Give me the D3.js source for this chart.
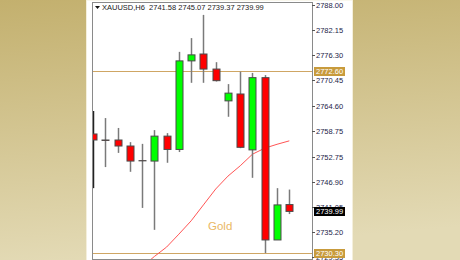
<!DOCTYPE html>
<html>
<head>
<meta charset="utf-8">
<script src="https://cdnjs.cloudflare.com/ajax/libs/d3/7.8.5/d3.min.js"></script>
<style>
html, body { margin: 0; padding: 0; background: #fff; }
svg { display: block; }
</style>
</head>
<body>
<svg id="mySVG" width="460" height="260"></svg>
<script>
//---candle data (H6 bars, oldest first)---
var bars = [1, 2, 3, 4, 5, 6, 7, 8, 9, 10, 11, 12, 13, 14, 15, 16, 17]
var opens  = [2758.00, 2756.60, 2756.60, 2755.20, 2751.80, 2751.70, 2757.50, 2754.40, 2775.00, 2776.60, 2773.10, 2765.70, 2767.30, 2754.30, 2771.10, 2733.35, 2741.58]
var highs  = [2763.35, 2761.70, 2759.40, 2756.10, 2755.70, 2758.90, 2758.20, 2777.10, 2780.30, 2785.70, 2774.70, 2769.60, 2772.50, 2772.20, 2771.70, 2745.40, 2745.07]
var lows   = [2745.40, 2750.30, 2753.60, 2749.20, 2740.80, 2735.70, 2751.30, 2753.80, 2769.90, 2769.90, 2770.20, 2762.00, 2754.70, 2747.80, 2730.30, 2733.60, 2739.37]
var closes = [2756.60, 2756.50, 2755.20, 2751.70, 2751.75, 2757.50, 2754.40, 2775.00, 2776.40, 2773.10, 2770.40, 2767.50, 2754.90, 2771.10, 2733.35, 2741.50, 2739.99]
//---moving average (null = not drawn)---
var maValues = [null, null, null, null, 2727.10, 2729.50, 2731.70, 2734.70, 2737.80, 2741.50, 2745.20, 2748.20, 2750.60, 2753.30, 2754.70, 2755.60, 2756.40]

//---price axis---
var tickValues = [2788.00, 2782.15, 2776.30, 2770.45, 2764.60, 2758.75, 2752.75, 2746.90, 2741.05, 2735.20, 2729.35]
var tickLabels = ["2788.00", "2782.15", "2776.30", "2770.45", "2764.60", "2758.75", "2752.75", "2746.90", "2741.05", "2735.20", "2729.35"]
var levelValues = [2772.60, 2730.30]
var levelLabels = ["2772.60", "2730.30"]
var lastPrice = 2739.99
var headerText = "XAUUSD,H6  2741.58 2745.07 2739.37 2739.99"
var watermark = "Gold"

var MySVG = d3.select("#mySVG")

var plotL = 92, plotR = 312, plotT = 2, plotB = 259

var x = d3.scalePoint()
    .domain(bars)
    .range([93, 289.3])
var y = d3.scaleLinear()
    .domain([2735.20, 2788.00])
    .range([232, 5])

//---background---
var defs = MySVG.append("defs")
var grad = defs.append("linearGradient")
    .attr("id", "bgGrad")
    .attr("x1", "0").attr("y1", "0")
    .attr("x2", "0.15").attr("y2", "1")
grad.append("stop").attr("offset", "0").attr("stop-color", "#c3b06e")
grad.append("stop").attr("offset", "1").attr("stop-color", "#e3dab5")
defs.append("clipPath")
    .attr("id", "plotClip")
    .append("rect")
    .attr("x", plotL).attr("y", plotT)
    .attr("width", plotR - plotL).attr("height", plotB - plotT)

MySVG.append("rect")
    .attr("width", 460).attr("height", 260)
    .attr("fill", "url(#bgGrad)")
MySVG.append("rect")
    .attr("x", 86.5).attr("y", 0)
    .attr("width", 266).attr("height", 261)
    .attr("fill", "#fff")
    .attr("stroke", "#f4efdc")

//---plot area---
var PlotG = MySVG.append("g")
    .attr("clip-path", "url(#plotClip)")

PlotG.selectAll(".level")
    .data(levelValues)
    .enter().append("line")
    .attr("class", "level")
    .attr("x1", plotL).attr("x2", plotR)
    .attr("y1", function(d){ return Math.round(y(d)) + 0.5 })
    .attr("y2", function(d){ return Math.round(y(d)) + 0.5 })
    .attr("stroke", "#cfa664")
    .attr("stroke-width", 1)

PlotG.append("text")
    .attr("x", 208)
    .attr("y", 230)
    .attr("font-family", "Liberation Sans, Arial, sans-serif")
    .attr("font-size", "11.5px")
    .attr("fill", "#eab865")
    .text(watermark)

var maLine = d3.line()
    .defined(function(d){ return d != null })
    .x(function(d, i){ return x(bars[i]) })
    .y(function(d){ return y(d) })
PlotG.append("path")
    .attr("d", maLine(maValues))
    .attr("fill", "none")
    .attr("stroke", "#ff5555")
    .attr("stroke-width", 1)

var candle = PlotG.selectAll(".candle")
    .data(bars)
    .enter().append("g")
    .attr("class", "candle")
candle.append("line")
    .attr("x1", function(d){ return Math.round(x(d)) + 0.5 })
    .attr("x2", function(d){ return Math.round(x(d)) + 0.5 })
    .attr("y1", function(d, i){ return y(highs[i]) })
    .attr("y2", function(d, i){ return y(lows[i]) })
    .attr("stroke", function(d, i){ return i == 0 ? "#222" : "#7a7a7a" })
    .attr("stroke-width", 1.5)
candle.append("rect")
    .attr("x", function(d){ return Math.round(x(d)) - 3 })
    .attr("y", function(d, i){ return y(Math.max(opens[i], closes[i])) })
    .attr("width", 7)
    .attr("height", function(d, i){ return Math.abs(y(opens[i]) - y(closes[i])) })
    .attr("fill", function(d, i){ return closes[i] >= opens[i] ? "#00ff00" : "#ff0000" })
    .attr("stroke", "#4a4a4a")
    .attr("stroke-width", 1)

//---frame---
MySVG.append("rect")
    .attr("x", plotL + 0.5).attr("y", plotT + 0.5)
    .attr("width", plotR - plotL).attr("height", plotB - plotT)
    .attr("fill", "none")
    .attr("stroke", "#8a8a8a")
    .attr("stroke-width", 1)

//---header---
var header = MySVG.append("g")
    .attr("font-family", "Liberation Sans, Arial, sans-serif")
    .attr("font-size", "7.5px")
    .attr("fill", "#1a1a1a")
header.append("path")
    .attr("d", "M95,6 L100,6 L97.5,9 Z")
    .attr("fill", "#111")
header.append("text")
    .attr("x", 102)
    .attr("y", 10)
    .style("white-space", "pre")
    .text(headerText)

//---price axis---
var AxisG = MySVG.append("g")
    .attr("font-family", "Liberation Sans, Arial, sans-serif")
    .attr("font-size", "7.5px")
var tick = AxisG.selectAll(".tick")
    .data(tickValues)
    .enter().append("g")
    .attr("class", "tick")
    .attr("transform", function(d){ return "translate(0," + (Math.round(y(d)) + 0.5) + ")" })
tick.append("line")
    .attr("x1", plotR).attr("x2", plotR + 3)
    .attr("stroke", "#555")
tick.append("text")
    .attr("x", 316)
    .attr("dy", "0.33em")
    .attr("fill", "#24244a")
    .text(function(d, i){ return tickLabels[i] })

//---price marker boxes (drawn over the ticks, as on the terminal)---
function priceBox(v, label, fill)
{
    var g = AxisG.append("g")
        .attr("transform", "translate(0," + (Math.round(y(v)) + 0.5) + ")")
    g.append("rect")
        .attr("x", 314).attr("y", -4.5)
        .attr("width", 31).attr("height", 9)
        .attr("fill", fill)
    g.append("text")
        .attr("x", 316)
        .attr("dy", "0.33em")
        .attr("fill", "#fff")
        .text(label)
}
levelValues.forEach(function(v, i){ priceBox(v, levelLabels[i], "#c89b3c") })
priceBox(lastPrice, lastPrice.toFixed(2), "#000")
</script>
</body>
</html>
